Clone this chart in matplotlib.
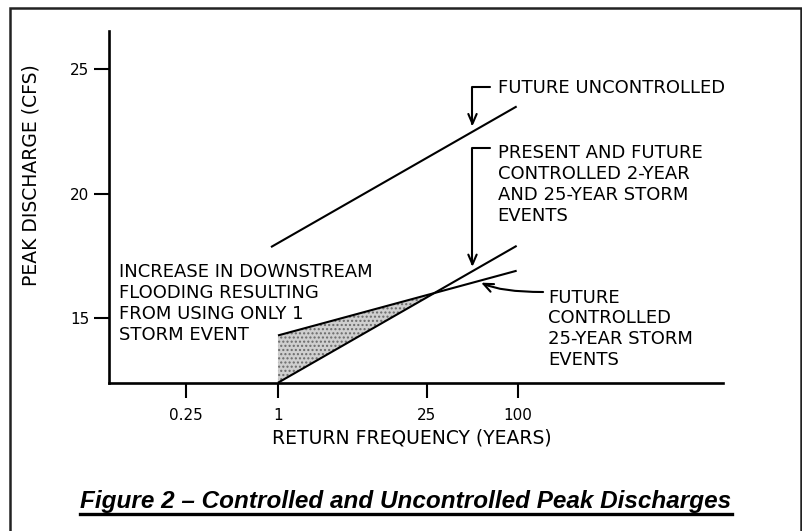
import numpy as np
import matplotlib
matplotlib.use("Agg")
import matplotlib.pyplot as plt
from matplotlib.patches import Rectangle
from matplotlib.lines import Line2D

# return frequency (years) shown on the x axis and peak discharge ticks (cfs)
freq_ticks = [0.25, 1, 25, 100]
freq_labels = ["0.25", "1", "25", "100"]
cfs_ticks = [15, 20, 25]

# straight-line curves: (return freq, peak discharge)
future_unctrl_x = [0.9, 98]
future_unctrl_y = [17.85, 23.5]
present_ctrl_x = [1, 98]
present_ctrl_y = [12.4, 17.9]
future_ctrl_x = [1, 98]
future_ctrl_y = [14.3, 16.9]

# the ticks on the drawing are not evenly spaced in log space, so build a
# piecewise log scale through them
tick_frac = np.array([0.1254, 0.2752, 0.5179, 0.6661])
LT = np.log10(freq_ticks)
lo_slope = (tick_frac[1] - tick_frac[0]) / (LT[1] - LT[0])
hi_slope = (tick_frac[-1] - tick_frac[-2]) / (LT[-1] - LT[-2])


def _fwd(v):
    lv = np.log10(np.maximum(np.asarray(v, dtype=float), 1e-9))
    out = np.interp(lv, LT, tick_frac)
    out = np.where(lv < LT[0], tick_frac[0] + (lv - LT[0]) * lo_slope, out)
    out = np.where(lv > LT[-1], tick_frac[-1] + (lv - LT[-1]) * hi_slope, out)
    return out


def _inv(t):
    t = np.asarray(t, dtype=float)
    lv = np.interp(t, tick_frac, LT)
    lv = np.where(t < tick_frac[0], LT[0] + (t - tick_frac[0]) / lo_slope, lv)
    lv = np.where(t > tick_frac[-1], LT[-1] + (t - tick_frac[-1]) / hi_slope, lv)
    return 10 ** lv


W, H = 802, 531
fig = plt.figure(figsize=(W / 100, H / 100), dpi=100)
ax = fig.add_axes([109 / W, 1 - 383 / H, 614 / W, 352 / H])

ax.set_xscale("function", functions=(_fwd, _inv))
ax.set_xlim(float(_inv(0.0)), float(_inv(1.0)))
ax.set_ylim(12.39, 26.53)

cad = {"family": "DejaVu Sans", "color": "black"}
fs = 13
lw = 1.5

ax.plot(future_unctrl_x, future_unctrl_y, color="black", lw=lw,
        solid_capstyle="butt")
ax.plot(present_ctrl_x, present_ctrl_y, color="black", lw=lw,
        solid_capstyle="butt")
ax.plot(future_ctrl_x, future_ctrl_y, color="black", lw=lw,
        solid_capstyle="butt")

# shaded wedge between the two controlled curves, up to where they cross
# (crossing found in scale space, where the lines are straight)
t0, t1 = _fwd(present_ctrl_x)
sa = (present_ctrl_y[1] - present_ctrl_y[0]) / (t1 - t0)
sb = (future_ctrl_y[1] - future_ctrl_y[0]) / (t1 - t0)
tc = t0 + (future_ctrl_y[0] - present_ctrl_y[0]) / (sa - sb)
xc = float(_inv(tc))
yc = present_ctrl_y[0] + sa * (tc - t0)
ax.fill_between([present_ctrl_x[0], xc], [future_ctrl_y[0], yc],
                [present_ctrl_y[0], yc], facecolor="#cfcfcf",
                edgecolor="#6a6a6a", hatch="....", linewidth=0, zorder=1)

# axes styling
for s in ["top", "right"]:
    ax.spines[s].set_visible(False)
for s in ["left", "bottom"]:
    ax.spines[s].set_linewidth(1.9)
ax.set_xticks(freq_ticks)
ax.set_xticklabels(freq_labels)
ax.xaxis.set_minor_locator(matplotlib.ticker.NullLocator())
ax.set_yticks(cfs_ticks)
ax.tick_params(axis="both", direction="out", length=11, width=1.5,
               labelsize=11)
ax.tick_params(axis="x", pad=7)
ax.tick_params(axis="y", pad=3)
for lab in ax.get_xticklabels() + ax.get_yticklabels():
    lab.set_family("DejaVu Sans")

ax.set_xlabel("RETURN FREQUENCY (YEARS)", fontsize=fs + 0.5, **cad)
ax.xaxis.set_label_coords(0.493, -0.130)
ax.set_ylabel("PEAK DISCHARGE (CFS)", fontsize=fs + 0.5, **cad)
ax.yaxis.set_label_coords(-0.112, 0.591)

# annotations
txt_kw = dict(transform=ax.transAxes, fontsize=fs, ha="left", va="top",
              linespacing=1.2, **cad)
ax.text(0.633, 0.863, "FUTURE UNCONTROLLED", **txt_kw)
ax.text(0.633, 0.678,
        "PRESENT AND FUTURE\nCONTROLLED 2-YEAR\nAND 25-YEAR STORM\nEVENTS",
        **txt_kw)
ax.text(0.715, 0.268,
        "FUTURE\nCONTROLLED\n25-YEAR STORM\nEVENTS", **txt_kw)
ax.text(0.016, 0.340,
        "INCREASE IN DOWNSTREAM\nFLOODING RESULTING\nFROM USING ONLY 1\nSTORM EVENT",
        **txt_kw)

arrow = dict(arrowstyle="->,head_length=0.7,head_width=0.3", color="black",
             lw=1.5, shrinkA=0, shrinkB=0)
ax.annotate("", xy=(50, 22.7), xycoords="data",
            xytext=(0.6205, 0.841), textcoords="axes fraction",
            arrowprops=dict(connectionstyle="angle,angleA=0,angleB=90,rad=0",
                            **arrow))
ax.annotate("", xy=(50, 17.05), xycoords="data",
            xytext=(0.6205, 0.668), textcoords="axes fraction",
            arrowprops=dict(connectionstyle="angle,angleA=0,angleB=90,rad=0",
                            **arrow))
ax.annotate("", xy=(57, 16.42), xycoords="data",
            xytext=(0.707, 0.2585), textcoords="axes fraction",
            arrowprops=dict(connectionstyle="angle3,angleA=0,angleB=-25",
                            **arrow))

# outer frame (runs off the bottom of the image)
fig.patches.append(Rectangle((10 / W, -0.05), 791 / W, 1.05 - 8 / H,
                             transform=fig.transFigure, fill=False,
                             edgecolor="#222222", lw=1.8, clip_on=False))

title = fig.text(406 / W, 1 - 508 / H,
                 "Figure 2 \u2013 Controlled and Uncontrolled Peak Discharges",
                 ha="center", va="baseline", fontsize=17.5,
                 family="Liberation Sans", weight="bold", style="italic")
fig.canvas.draw()
bb = title.get_window_extent()
uy = (531 - 514) / H
fig.lines.append(Line2D([bb.x0 / W, bb.x1 / W], [uy, uy],
                        transform=fig.transFigure, color="black", lw=2.4))

fig.savefig("out.png", dpi=100)
